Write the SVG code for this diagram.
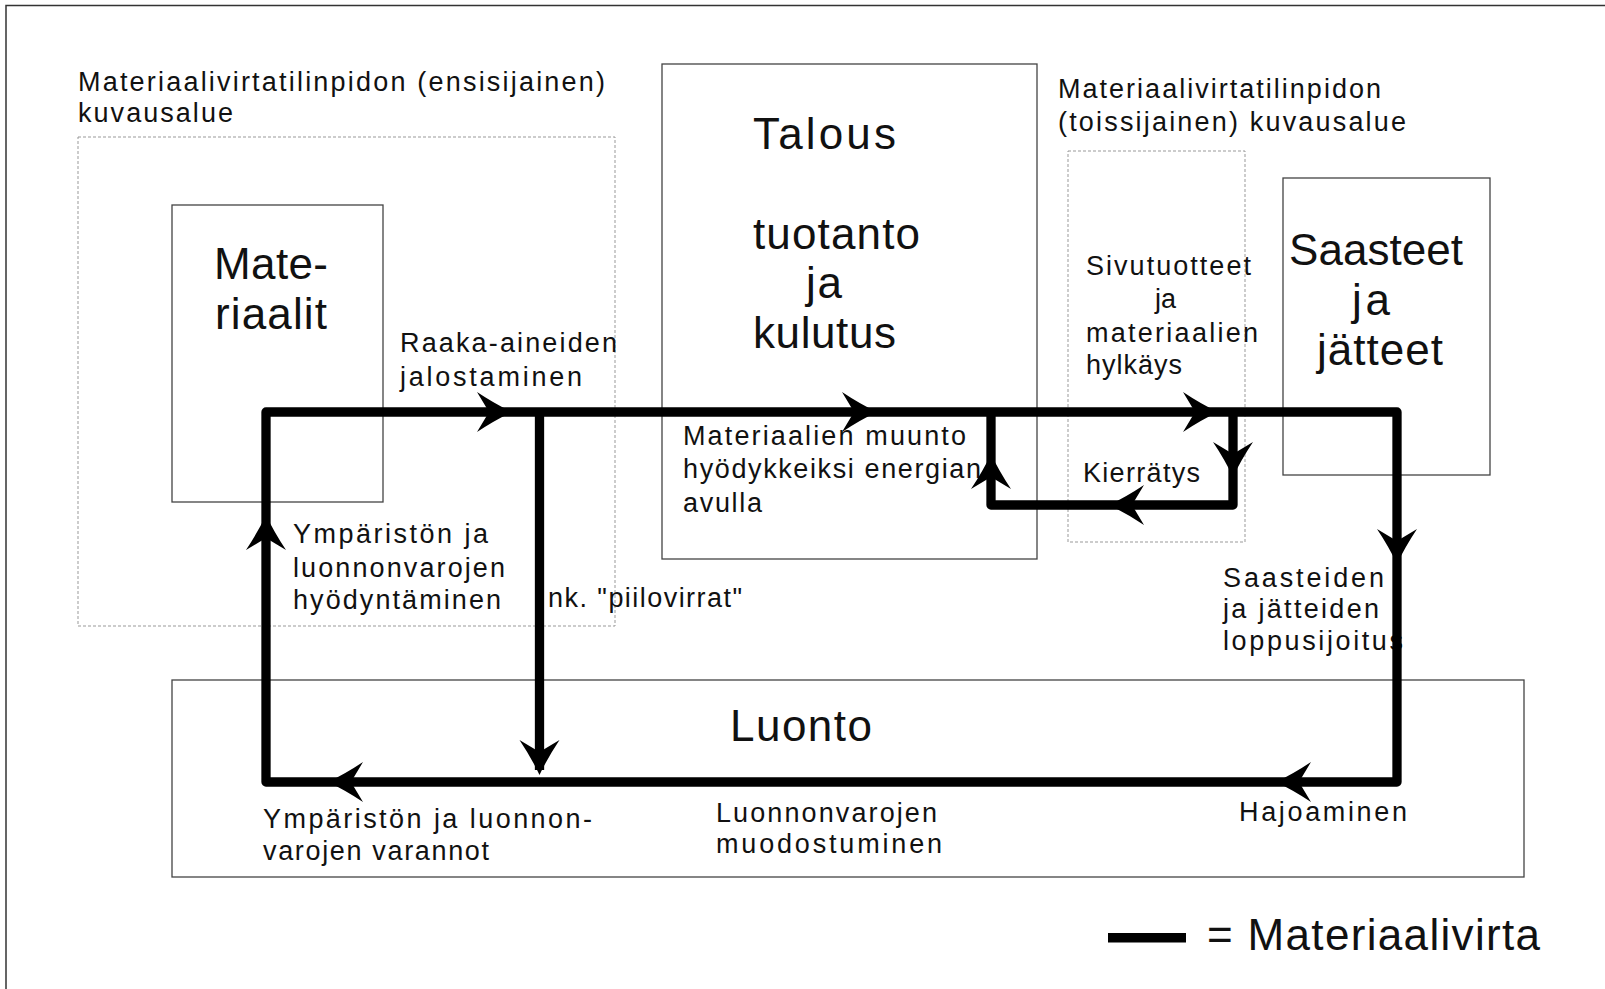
<svg xmlns="http://www.w3.org/2000/svg" xmlns:xlink="http://www.w3.org/1999/xlink" width="1605" height="989" viewBox="0 0 1605 989">
<style>
.box{fill:none;stroke:#444;stroke-width:1.3}
.dash{fill:none;stroke:#999;stroke-width:1;stroke-dasharray:3 2}
.s{font-family:"Liberation Sans",Arial,sans-serif;font-size:27px;fill:#111}
.l{font-family:"Liberation Sans",Arial,sans-serif;font-size:44px;fill:#111}
.flow{fill:none;stroke:#000;stroke-width:9.3;stroke-linejoin:round}
.ah{fill:#000}
</style>
<defs>
<path id="ah" d="M0,0 Q-17,-8 -35,-20 L-23,0 L-35,20 Q-17,8 0,0 Z"/>
</defs>
<rect x="0" y="0" width="1605" height="989" fill="#fff"/>
<path d="M6,989 V5.5 H1605" fill="none" stroke="#333" stroke-width="1.5"/>

<g id="primary-scope">
<rect class="dash" x="78" y="137" width="537" height="489"/>
<text class="s" x="78" y="91" textLength="527" lengthAdjust="spacing">Materiaalivirtatilinpidon (ensisijainen)</text>
<text class="s" x="78" y="122" textLength="155" lengthAdjust="spacing">kuvausalue</text>
</g>

<g id="secondary-scope">
<rect class="dash" x="1068" y="151" width="177" height="391"/>
<text class="s" x="1058" y="98" textLength="323" lengthAdjust="spacing">Materiaalivirtatilinpidon</text>
<text class="s" x="1058" y="131" textLength="348" lengthAdjust="spacing">(toissijainen) kuvausalue</text>
<text class="s" x="1086" y="275" textLength="165" lengthAdjust="spacing">Sivutuotteet</text>
<text class="s" x="1155" y="308">ja</text>
<text class="s" x="1086" y="342" textLength="172" lengthAdjust="spacing">materiaalien</text>
<text class="s" x="1086" y="374" textLength="96" lengthAdjust="spacing">hylkäys</text>
</g>

<g id="materiaalit">
<rect class="box" x="172" y="205" width="211" height="297"/>
<text class="l" x="214" y="279" textLength="114" lengthAdjust="spacing">Mate-</text>
<text class="l" x="215" y="329" textLength="112" lengthAdjust="spacing">riaalit</text>
</g>

<g id="talous">
<rect class="box" x="662" y="64" width="375" height="495"/>
<text class="l" x="753" y="149" textLength="143" lengthAdjust="spacing">Talous</text>
<text class="l" x="753" y="249" textLength="167" lengthAdjust="spacing">tuotanto</text>
<text class="l" x="806" y="298" textLength="36" lengthAdjust="spacing">ja</text>
<text class="l" x="753" y="348" textLength="143" lengthAdjust="spacing">kulutus</text>
</g>

<g id="saasteet">
<rect class="box" x="1283" y="178" width="207" height="297"/>
<text class="l" x="1289" y="265" textLength="174" lengthAdjust="spacing">Saasteet</text>
<text class="l" x="1352" y="315" textLength="38" lengthAdjust="spacing">ja</text>
<text class="l" x="1317" y="365" textLength="126" lengthAdjust="spacing">jätteet</text>
</g>

<g id="luonto">
<rect class="box" x="172" y="680" width="1352" height="197"/>
<text class="l" x="730" y="741" textLength="142" lengthAdjust="spacing">Luonto</text>
</g>

<g id="labels">
<text class="s" x="400" y="352" textLength="217" lengthAdjust="spacing">Raaka-aineiden</text>
<text class="s" x="400" y="386" textLength="182" lengthAdjust="spacing">jalostaminen</text>
<text class="s" x="683" y="445" textLength="283" lengthAdjust="spacing">Materiaalien muunto</text>
<text class="s" x="683" y="478" textLength="298" lengthAdjust="spacing">hyödykkeiksi energian</text>
<text class="s" x="683" y="512" textLength="79" lengthAdjust="spacing">avulla</text>
<text class="s" x="1083" y="482" textLength="117" lengthAdjust="spacing">Kierrätys</text>
<text class="s" x="293" y="543" textLength="195" lengthAdjust="spacing">Ympäristön ja</text>
<text class="s" x="293" y="577" textLength="212" lengthAdjust="spacing">luonnonvarojen</text>
<text class="s" x="293" y="609" textLength="208" lengthAdjust="spacing">hyödyntäminen</text>
<text class="s" x="548" y="607" textLength="194" lengthAdjust="spacing">nk. "piilovirrat"</text>
<text class="s" x="263" y="828" textLength="329" lengthAdjust="spacing">Ympäristön ja luonnon-</text>
<text class="s" x="263" y="860" textLength="226" lengthAdjust="spacing">varojen varannot</text>
<text class="s" x="716" y="822" textLength="221" lengthAdjust="spacing">Luonnonvarojen</text>
<text class="s" x="716" y="853" textLength="226" lengthAdjust="spacing">muodostuminen</text>
<text class="s" x="1239" y="821" textLength="168" lengthAdjust="spacing">Hajoaminen</text>
<text class="s" x="1223" y="587" textLength="161" lengthAdjust="spacing">Saasteiden</text>
<text class="s" x="1223" y="618" textLength="156" lengthAdjust="spacing">ja jätteiden</text>
<text class="s" x="1223" y="650" textLength="180" lengthAdjust="spacing">loppusijoitus</text>
</g>

<g id="connectors">
<path class="flow" d="M266,782 V412 H1397 V782 Z"/>
<path class="flow" d="M539.5,412 V770"/>
<path class="flow" d="M1233,412 V505 H991 V412"/>
<g class="ah">
<use xlink:href="#ah" transform="translate(512,412)"/>
<use xlink:href="#ah" transform="translate(877,412)"/>
<use xlink:href="#ah" transform="translate(1218,412)"/>
<use xlink:href="#ah" transform="translate(1233,477) rotate(90)"/>
<use xlink:href="#ah" transform="translate(1109,505) rotate(180)"/>
<use xlink:href="#ah" transform="translate(991,454) rotate(-90)"/>
<use xlink:href="#ah" transform="translate(1397,564) rotate(90)"/>
<use xlink:href="#ah" transform="translate(1276,782) rotate(180)"/>
<use xlink:href="#ah" transform="translate(328,782) rotate(180)"/>
<use xlink:href="#ah" transform="translate(539.5,775) rotate(90)"/>
<use xlink:href="#ah" transform="translate(266,515) rotate(-90)"/>
</g>
</g>

<g id="legend">
<rect x="1108" y="933" width="78" height="9.5" fill="#000"/>
<text class="l" x="1207" y="950" textLength="333" lengthAdjust="spacing">= Materiaalivirta</text>
</g>
</svg>
